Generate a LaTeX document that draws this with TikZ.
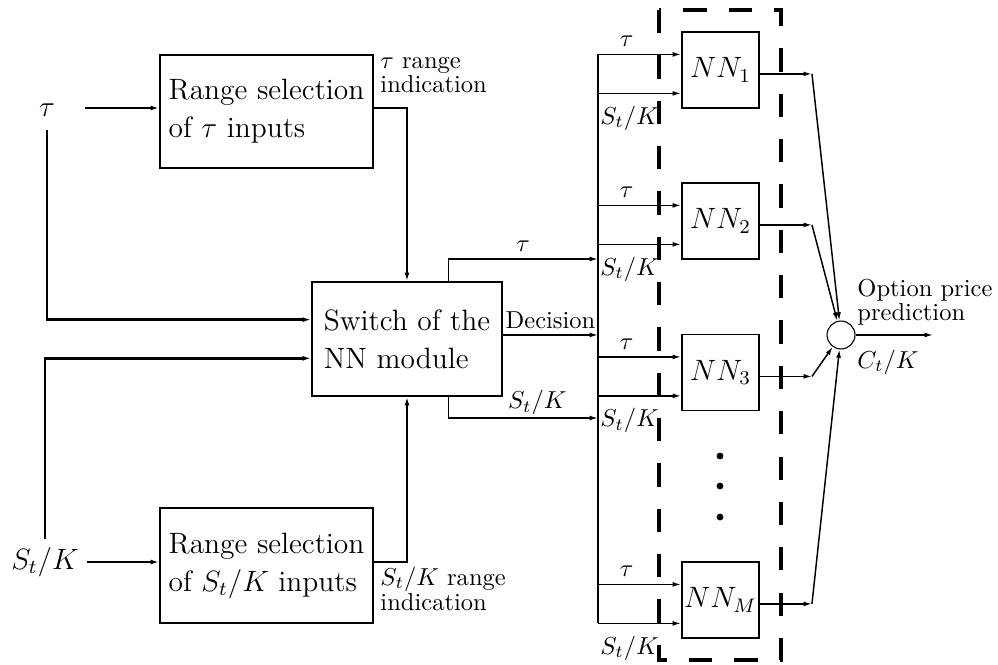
\documentclass[tikz,border=0pt]{standalone}
\usetikzlibrary{calc,arrows.meta}
\begin{document}
\begin{tikzpicture}[x=0.408pt,y=-0.408pt,
  >={Latex[length=3.4pt,width=2pt]},
  box/.style={draw,line width=0.8pt,inner sep=0pt,align=left,font=\fontsize{12pt}{15.5pt}\selectfont},
  nnbox/.style={draw,line width=0.8pt,inner sep=0pt,minimum width=31.4pt,minimum height=31pt,font=\fontsize{12pt}{14pt}\selectfont},
  lbl/.style={font=\fontsize{10pt}{8.5pt}\selectfont,inner sep=0pt,align=left},
  big/.style={font=\fontsize{12pt}{14pt}\selectfont},
  thin/.style={line width=0.6pt},
  med/.style={line width=0.8pt},
  thk/.style={line width=1.1pt},
  frame/.style={line width=1.6pt,dash pattern=on 9.5pt off 9pt}]
\useasboundingbox (0,0) rectangle (998,665);

% main blocks
\node[box,minimum width=86.9pt,minimum height=46.1pt] (r1) at (266.5,111.5) {Range selection\\of $\tau$ inputs};
\node[box,minimum width=86.9pt,minimum height=46.9pt] (r2) at (266.5,565.5) {Range selection\\of $S_t/K$ inputs};
\node[box,minimum width=77.5pt,minimum height=46.5pt] (sw) at (407,339) {Switch of the\\NN module};

\node[nnbox] (nn1) at (720.5,70) {$NN_1$};
\node[nnbox] (nn2) at (720.5,221) {$NN_2$};
\node[nnbox] (nn3) at (720.5,372.5) {$NN_3$};
\node[nnbox] (nnm) at (720.5,600) {$NN_M$};

\node[circle,draw,line width=0.45pt,minimum size=11.4pt,inner sep=0pt] (sum) at (841,335) {};

% input labels
\node[big] (tau) at (47,110) {$\tau$};
\node[big] (stk) at (45,562) {$S_t/K$};

% side labels
\node[lbl,anchor=west] (tri) at (380,75) {$\tau$ range\\indication};
\node[lbl,anchor=west] (sri) at (380,589) {$S_t/K$ range\\indication};
\node[lbl,anchor=west] (opp) at (857,302.5) {Option price\\prediction};
\node[lbl,anchor=west] (ctk) at (857,362) {$C_t/K$};

% coordinates
\coordinate (tauin) at (85,108);
\coordinate (bus) at (598,0);
\coordinate (tj) at (0,259);
\coordinate (sj) at (0,418);
\coordinate (swt) at ($(sw.north west)!0.333!(sw.south west)$);
\coordinate (sws) at ($(sw.north west)!0.667!(sw.south west)$);
\coordinate (swo1) at ($(sw.north west)!0.716!(sw.north east)$);
\coordinate (swo2) at ($(sw.south west)!0.716!(sw.south east)$);
\coordinate (swd) at ($(sw.north east)!0.465!(sw.south east)$);
\coordinate (outend) at (933,335);

% inputs
\draw[thk,->] (tauin) -- (tauin -| r1.west);
\draw[med,->] (stk.east) -- (stk.east -| r2.west);
\draw[thk,->] ([yshift=-2pt]tau.south) |- (swt);
\draw[thk,->] (stk.north) |- (sws);
\draw[med,->] (r1.east |- tauin) -| (sw.north);
\draw[med,->] (r2.east |- stk.east) -| (sw.south);

% switch outputs
\draw[thin,->] (swo1) |- node[lbl,pos=0.75,above=2.75pt] {$\tau$} (bus |- tj);
\draw[thin,->] (swd) -- node[lbl,above=2.3pt] {Decision} (bus |- swd);
\draw[thin,->] (swo2) |- node[lbl,pos=0.797,above=1.1pt] {$S_t/K$} (bus |- sj);

% NN inputs
\foreach \n in {nn1,nn2,nn3,nnm}{
  \coordinate (\n a) at ($(\n.north west)!0.3!(\n.south west)$);
  \coordinate (\n b) at ($(\n.north west)!0.8!(\n.south west)$);
  \draw[thin,->] (bus |- \n a) -- node[lbl,pos=0.345,above=2.75pt] {$\tau$} (\n a);
  \draw[thin,->] (bus |- \n b) -- node[lbl,pos=0.38,below=4.8pt] {$S_t/K$} (\n b);
}
\draw[thin] (bus |- nn1a) -- (bus |- nnmb);

% NN outputs
\foreach \n/\w in {nn1/thk,nn2/thin,nn3/thin,nnm/thin}{
  \coordinate (\n o) at ($(\n.north east)!0.55!(\n.south east)$);
  \coordinate (\n p) at ($(\n o)+(52,0)$);
  \draw[\w,->] (\n o) -- (\n p);
  \draw[thin,->] (\n p) -- (sum);
}
\draw[thin,->] (sum.east) -- (sum.east -| outend);

% dashed frame
\draw[frame] (659,10) rectangle (781,660);

% dots
\fill (720,456) circle (1.4pt);
\fill (720,486) circle (1.4pt);
\fill (720,517) circle (1.4pt);
\end{tikzpicture}
\end{document}
